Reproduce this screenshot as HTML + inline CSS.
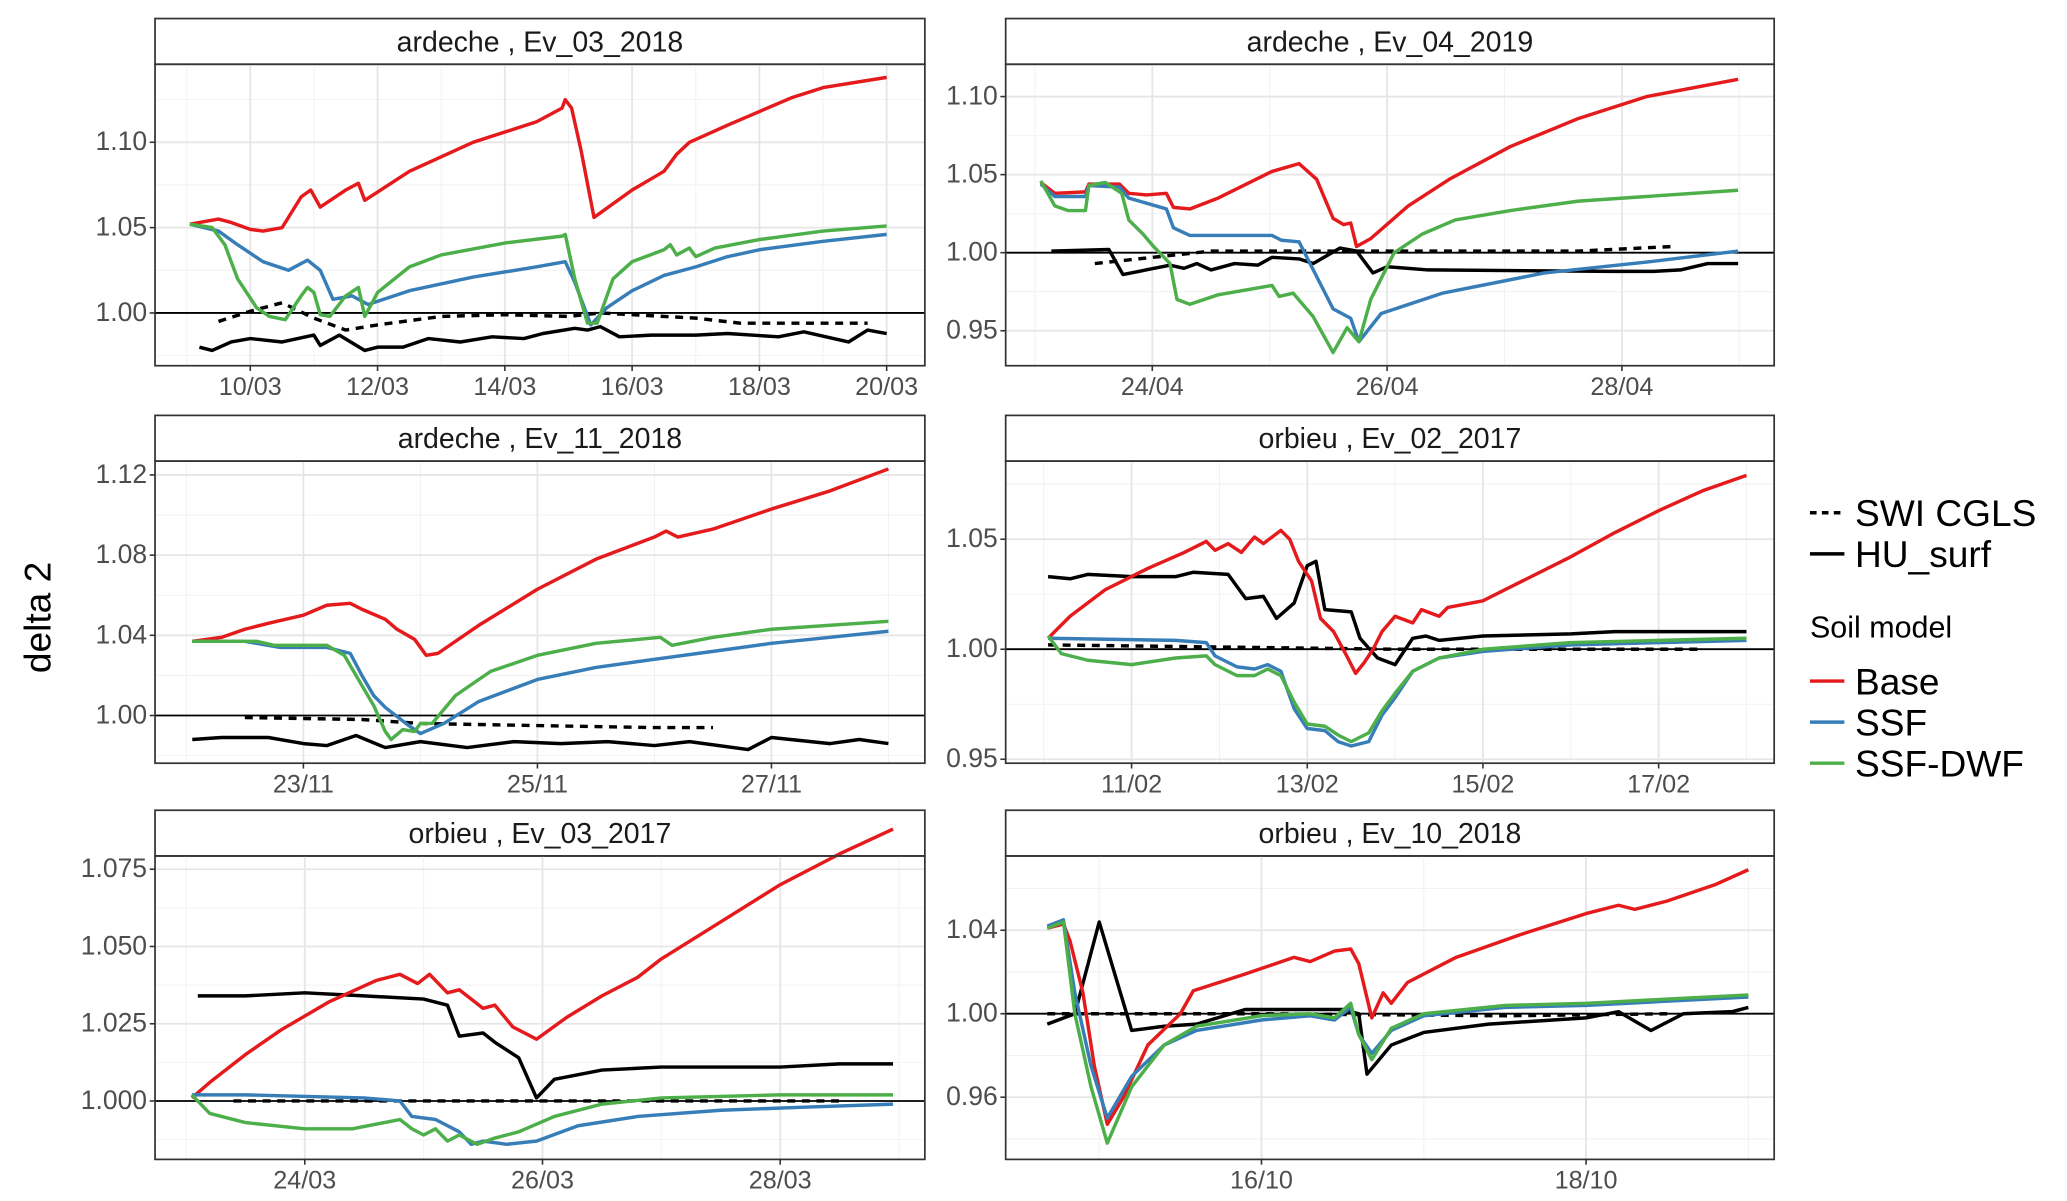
<!DOCTYPE html>
<html><head><meta charset="utf-8"><style>
html,body{margin:0;padding:0;background:#fff}
svg{display:block}
text{font-family:"Liberation Sans",sans-serif}
</style></head><body>
<svg id="chart" width="2067" height="1201" viewBox="0 0 1560 906.4" preserveAspectRatio="none" xmlns="http://www.w3.org/2000/svg">
<text x="0" y="0" transform="translate(38,466) rotate(-90)" text-anchor="middle" font-size="28" fill="#000">delta 2</text>
<g>
<line x1="1366" y1="387" x2="1392" y2="387" stroke="#000" stroke-width="2.6" stroke-dasharray="5,4"/>
<text x="1400" y="397" font-size="28">SWI CGLS</text>
<line x1="1366" y1="418" x2="1392" y2="418" stroke="#000" stroke-width="2.6"/>
<text x="1400" y="428" font-size="28">HU_surf</text>
<text x="1366" y="481" font-size="23">Soil model</text>
<line x1="1366" y1="514" x2="1392" y2="514" stroke="#e41a1c" stroke-width="2.6"/>
<text x="1400" y="524" font-size="28">Base</text>
<line x1="1366" y1="545" x2="1392" y2="545" stroke="#377eb8" stroke-width="2.6"/>
<text x="1400" y="555" font-size="28">SSF</text>
<line x1="1366" y1="576" x2="1392" y2="576" stroke="#4daf4a" stroke-width="2.6"/>
<text x="1400" y="586" font-size="28">SSF-DWF</text>
</g>
</svg>
<script>
const titles=["ardeche , Ev_03_2018","ardeche , Ev_04_2019","ardeche , Ev_11_2018","orbieu , Ev_02_2017","orbieu , Ev_03_2017","orbieu , Ev_10_2018"];
const monthLabels=["03","04","11","02","03","10"];
const xTicksMajor=[[10,12,14,16,18,20],[24,26,28],[23,25,27],[11,13,15,17],[24,26,28],[16,18]];
const xTicksMinor=[[9,11,13,15,17,19],[23,25,27,29],[22,24,26,28],[10,12,14,16,18],[23,25,27,29],[15,17,19]];
const yTicks=[[1.00,1.05,1.10],[0.95,1.00,1.05,1.10],[1.00,1.04,1.08,1.12],[0.95,1.00,1.05],[1.000,1.025,1.050,1.075],[0.96,1.00,1.04]];
const yDecimals=[2,2,2,2,3,2];
const xLims=[[8.503,20.6],[22.751,29.297],[21.732,28.311],[9.567,18.315],[22.740,29.217],[14.424,19.159]];
const yLims=[[0.9691,1.1457],[0.9276,1.1207],[0.9762,1.1269],[0.9482,1.0855],[0.9811,1.0793],[0.9302,1.0756]];

const baseSeries=[
[[9.05,1.052],[9.5,1.055],[9.7,1.053],[10.0,1.049],[10.2,1.048],[10.5,1.050],[10.8,1.068],[10.95,1.072],[11.1,1.062],[11.5,1.072],[11.7,1.076],[11.8,1.066],[12.5,1.083],[13.5,1.100],[14.5,1.112],[14.9,1.120],[14.95,1.125],[15.05,1.12],[15.2,1.095],[15.4,1.056],[16,1.072],[16.5,1.083],[16.7,1.093],[16.9,1.100],[17.5,1.110],[18.0,1.118],[18.5,1.126],[19,1.132],[20,1.138]],
[[23.05,1.045],[23.17,1.038],[23.43,1.039],[23.46,1.044],[23.72,1.044],[23.8,1.038],[23.95,1.037],[24.12,1.038],[24.18,1.029],[24.32,1.028],[24.56,1.035],[25.02,1.052],[25.25,1.057],[25.40,1.047],[25.54,1.022],[25.63,1.018],[25.69,1.019],[25.74,1.004],[25.86,1.009],[26.18,1.030],[26.53,1.047],[27.05,1.068],[27.63,1.086],[28.21,1.100],[28.99,1.111]],
[[22.05,1.037],[22.3,1.039],[22.5,1.043],[22.7,1.046],[23,1.050],[23.2,1.055],[23.4,1.056],[23.5,1.053],[23.7,1.048],[23.8,1.043],[23.95,1.038],[24.05,1.030],[24.15,1.031],[24.5,1.045],[25,1.063],[25.5,1.078],[26.0,1.089],[26.1,1.092],[26.2,1.089],[26.5,1.093],[27,1.103],[27.5,1.112],[28,1.123]],
[[10.05,1.005],[10.3,1.015],[10.7,1.027],[11.2,1.037],[11.6,1.044],[11.85,1.049],[11.95,1.045],[12.1,1.048],[12.25,1.044],[12.4,1.051],[12.5,1.048],[12.7,1.054],[12.8,1.050],[12.9,1.040],[13.05,1.031],[13.15,1.014],[13.3,1.008],[13.45,0.997],[13.55,0.989],[13.65,0.994],[13.75,1.000],[13.85,1.008],[14.0,1.015],[14.2,1.012],[14.3,1.018],[14.5,1.015],[14.6,1.019],[15,1.022],[15.5,1.032],[16,1.042],[16.5,1.053],[17,1.063],[17.5,1.072],[18,1.079]],
[[23.05,1.001],[23.2,1.006],[23.5,1.015],[23.8,1.023],[24.2,1.032],[24.6,1.039],[24.8,1.041],[24.95,1.038],[25.05,1.041],[25.2,1.035],[25.3,1.036],[25.5,1.030],[25.6,1.031],[25.75,1.024],[25.95,1.020],[26.2,1.027],[26.5,1.034],[26.8,1.040],[27,1.046],[27.5,1.058],[28,1.070],[28.5,1.080],[28.95,1.088]],
[[14.68,1.041],[14.78,1.043],[14.82,1.035],[14.9,1.010],[14.97,0.975],[15.05,0.947],[15.15,0.960],[15.3,0.985],[15.5,1.000],[15.58,1.011],[15.9,1.019],[16.2,1.027],[16.3,1.025],[16.45,1.030],[16.55,1.031],[16.6,1.024],[16.68,0.998],[16.75,1.010],[16.8,1.005],[16.9,1.015],[17.2,1.027],[17.6,1.038],[18.0,1.048],[18.2,1.052],[18.3,1.050],[18.5,1.054],[18.8,1.062],[19.0,1.069]]
];
const ssfSeries=[
[[9.05,1.052],[9.5,1.048],[9.8,1.040],[10.2,1.030],[10.6,1.025],[10.9,1.031],[11.1,1.025],[11.3,1.008],[11.6,1.010],[11.85,1.005],[12.5,1.013],[13.5,1.021],[14.5,1.027],[14.95,1.030],[15.1,1.018],[15.35,0.993],[15.6,1.003],[16,1.013],[16.5,1.022],[17,1.027],[17.5,1.033],[18,1.037],[19,1.042],[20,1.046]],
[[23.05,1.044],[23.17,1.036],[23.43,1.036],[23.46,1.043],[23.72,1.042],[23.8,1.035],[24.12,1.028],[24.18,1.016],[24.32,1.011],[25.02,1.011],[25.1,1.008],[25.25,1.007],[25.54,0.964],[25.69,0.958],[25.76,0.943],[25.95,0.961],[26.47,0.974],[27.34,0.987],[28.21,0.994],[28.99,1.001]],
[[22.05,1.037],[22.5,1.037],[22.8,1.034],[23.2,1.034],[23.4,1.031],[23.5,1.020],[23.6,1.010],[23.7,1.004],[23.9,0.995],[24.0,0.991],[24.2,0.996],[24.5,1.007],[25,1.018],[25.5,1.024],[26,1.028],[26.5,1.032],[27,1.036],[27.5,1.039],[28,1.042]],
[[10.05,1.005],[11.5,1.004],[11.85,1.003],[11.95,0.997],[12.2,0.992],[12.4,0.991],[12.55,0.993],[12.7,0.990],[12.85,0.973],[13.0,0.964],[13.2,0.963],[13.35,0.958],[13.5,0.956],[13.7,0.958],[13.85,0.970],[14.0,0.978],[14.2,0.990],[14.5,0.996],[15,0.999],[16,1.002],[17,1.003],[18,1.004]],
[[23.05,1.002],[23.5,1.002],[24.5,1.001],[24.8,1.000],[24.9,0.995],[25.1,0.994],[25.3,0.990],[25.4,0.986],[25.5,0.987],[25.7,0.986],[25.95,0.987],[26.3,0.992],[26.8,0.995],[27.5,0.997],[28.2,0.998],[28.95,0.999]],
[[14.68,1.042],[14.78,1.045],[14.85,1.010],[14.95,0.975],[15.05,0.950],[15.2,0.970],[15.4,0.985],[15.6,0.992],[16,0.997],[16.3,0.999],[16.45,0.997],[16.55,1.003],[16.6,0.990],[16.68,0.981],[16.8,0.992],[17.0,0.999],[17.5,1.003],[18,1.004],[18.5,1.006],[19,1.008]]
];
const dwfSeries=[
[[9.05,1.052],[9.4,1.050],[9.6,1.040],[9.8,1.020],[10.1,1.003],[10.3,0.998],[10.55,0.996],[10.8,1.010],[10.9,1.015],[11.0,1.012],[11.1,0.999],[11.25,0.998],[11.5,1.010],[11.7,1.015],[11.8,0.998],[12.0,1.012],[12.5,1.027],[13,1.034],[14,1.041],[14.9,1.045],[14.95,1.046],[15.1,1.020],[15.3,0.994],[15.45,0.994],[15.7,1.020],[16,1.030],[16.5,1.037],[16.6,1.040],[16.7,1.034],[16.9,1.038],[17.0,1.033],[17.3,1.038],[18,1.043],[19,1.048],[20,1.051]],
[[23.05,1.046],[23.17,1.030],[23.28,1.027],[23.43,1.027],[23.46,1.043],[23.6,1.045],[23.74,1.038],[23.8,1.021],[23.92,1.012],[24.01,1.004],[24.15,0.993],[24.21,0.970],[24.32,0.967],[24.56,0.973],[25.02,0.979],[25.08,0.972],[25.2,0.974],[25.37,0.959],[25.54,0.936],[25.66,0.952],[25.76,0.943],[25.86,0.970],[26.06,1.000],[26.3,1.012],[26.58,1.021],[27.05,1.027],[27.63,1.033],[28.99,1.040]],
[[22.05,1.037],[22.6,1.037],[22.75,1.035],[23.2,1.035],[23.35,1.030],[23.5,1.015],[23.6,1.005],[23.7,0.992],[23.75,0.988],[23.85,0.993],[23.95,0.992],[24.0,0.996],[24.1,0.996],[24.3,1.010],[24.6,1.022],[25,1.030],[25.5,1.036],[26.05,1.039],[26.15,1.035],[26.5,1.039],[27,1.043],[28,1.047]],
[[10.05,1.006],[10.2,0.998],[10.5,0.995],[11,0.993],[11.5,0.996],[11.85,0.997],[11.95,0.993],[12.2,0.988],[12.4,0.988],[12.55,0.991],[12.7,0.988],[12.85,0.976],[13.0,0.966],[13.2,0.965],[13.35,0.961],[13.5,0.958],[13.7,0.962],[13.85,0.972],[14.0,0.980],[14.2,0.990],[14.5,0.996],[15,1.000],[16,1.003],[17,1.004],[18,1.005]],
[[23.05,1.002],[23.2,0.996],[23.5,0.993],[24,0.991],[24.4,0.991],[24.8,0.994],[24.9,0.991],[25.0,0.989],[25.1,0.991],[25.2,0.987],[25.3,0.989],[25.45,0.986],[25.6,0.988],[25.8,0.990],[26.1,0.995],[26.5,0.999],[27,1.001],[28,1.002],[28.95,1.002]],
[[14.68,1.041],[14.78,1.044],[14.85,1.000],[14.95,0.965],[15.05,0.938],[15.2,0.965],[15.4,0.985],[15.6,0.994],[16,0.999],[16.3,1.000],[16.45,0.998],[16.55,1.005],[16.6,0.990],[16.68,0.978],[16.8,0.993],[17.0,1.000],[17.5,1.004],[18,1.005],[18.5,1.007],[19,1.009]]
];
const swiSeries=[
[[9.5,0.995],[10,1.001],[10.5,1.006],[11.0,0.997],[11.5,0.990],[12,0.993],[13,0.998],[14,0.999],[15,0.998],[15.5,1.000],[16,0.999],[17,0.997],[17.7,0.994],[18,0.994],[19,0.994],[19.7,0.994]],
[[23.51,0.993],[24.5,1.001],[27.63,1.001],[28.44,1.004]],
[[22.5,0.999],[23.5,0.998],[24,0.996],[25,0.995],[26,0.994],[26.5,0.994]],
[[10.05,1.002],[12,1.001],[14,1.000],[16,1.000],[17.5,1.000]],
[[23.4,1.000],[25,1.000],[27,1.000],[28.5,1.000]],
[[14.68,1.000],[16,1.000],[17.5,0.999],[18.5,1.000]]
];
const huSeries=[
[[9.2,0.980],[9.4,0.978],[9.7,0.983],[10,0.985],[10.5,0.983],[11,0.987],[11.1,0.981],[11.4,0.987],[11.8,0.978],[12,0.980],[12.4,0.980],[12.8,0.985],[13.3,0.983],[13.8,0.986],[14.3,0.985],[14.6,0.988],[15.1,0.991],[15.3,0.990],[15.5,0.992],[15.8,0.986],[16.3,0.987],[17,0.987],[17.5,0.988],[18.3,0.986],[18.7,0.989],[19.4,0.983],[19.7,0.990],[20,0.988]],
[[23.14,1.001],[23.63,1.002],[23.75,0.986],[24.15,0.992],[24.27,0.990],[24.38,0.993],[24.5,0.989],[24.7,0.993],[24.9,0.992],[25.02,0.997],[25.25,0.996],[25.37,0.993],[25.6,1.003],[25.74,1.001],[25.88,0.987],[26.0,0.991],[26.35,0.989],[27.92,0.988],[28.27,0.988],[28.5,0.989],[28.73,0.993],[28.99,0.993]],
[[22.05,0.988],[22.3,0.989],[22.7,0.989],[23,0.986],[23.2,0.985],[23.45,0.990],[23.7,0.984],[24,0.987],[24.4,0.984],[24.8,0.987],[25.2,0.986],[25.6,0.987],[26,0.985],[26.3,0.987],[26.8,0.983],[27.0,0.989],[27.5,0.986],[27.75,0.988],[28,0.986]],
[[10.05,1.033],[10.3,1.032],[10.5,1.034],[11,1.033],[11.5,1.033],[11.7,1.035],[12.1,1.034],[12.3,1.023],[12.5,1.024],[12.65,1.014],[12.85,1.021],[13.0,1.038],[13.1,1.040],[13.2,1.018],[13.5,1.017],[13.6,1.005],[13.8,0.996],[14.0,0.993],[14.2,1.005],[14.35,1.006],[14.5,1.004],[15,1.006],[16,1.007],[16.5,1.008],[17,1.008],[18,1.008]],
[[23.1,1.034],[23.5,1.034],[24,1.035],[24.5,1.034],[25,1.033],[25.2,1.031],[25.3,1.021],[25.5,1.022],[25.6,1.019],[25.8,1.014],[25.95,1.001],[26.1,1.007],[26.5,1.010],[27,1.011],[28,1.011],[28.5,1.012],[28.95,1.012]],
[[14.68,0.995],[14.85,1.000],[15.0,1.044],[15.2,0.992],[15.4,0.994],[15.6,0.995],[15.9,1.002],[16.5,1.002],[16.6,1.000],[16.65,0.971],[16.8,0.985],[17.0,0.991],[17.4,0.995],[18,0.998],[18.2,1.001],[18.4,0.992],[18.6,1.000],[18.9,1.001],[19.0,1.003]]
];

const NS="http://www.w3.org/2000/svg";
const svg=document.getElementById("chart");
function mk(tag,attrs,parent){const e=document.createElementNS(NS,tag);for(const k in attrs)e.setAttribute(k,attrs[k]);(parent||svg).appendChild(e);return e;}
const colLeft=[117,759], colRight=[698,1339];
const rowTop=[48.5,348,646], rowBottom=[276,576,875];
const stripH=34.5;
const pad=n=>String(n).padStart(2,"0");

for(let p=0;p<6;p++){
  const c=p%2, r=Math.floor(p/2);
  const L=colLeft[c],R=colRight[c],T=rowTop[r],B=rowBottom[r];
  const xs=d=>L+(d-xLims[p][0])/(xLims[p][1]-xLims[p][0])*(R-L);
  const ys=v=>B-(v-yLims[p][0])/(yLims[p][1]-yLims[p][0])*(B-T);
  const g=mk("g",{});
  
  
  // strip
  const st=mk("rect",{x:L,y:T-stripH,width:R-L,height:stripH,fill:"#fff",stroke:"#333","stroke-width":1.3},g);
  
  
  const tt=mk("text",{x:(L+R)/2,y:T-stripH/2+7.5,"text-anchor":"middle","font-size":21.5,fill:"#1a1a1a"},g);
  tt.textContent=titles[p];
  
  
  // minor y grid
  const yt=yTicks[p];const step=yt[1]-yt[0];
  for(let v=yt[0]-step*1.5;v<=yt[yt.length-1]+step*1.5;v+=step){
    if(v>yLims[p][0]&&v<yLims[p][1]){const gl=mk("line",{x1:L,x2:R,y1:ys(v),y2:ys(v),stroke:"#f2f2f2","stroke-width":0.8},g);
    }
  }
  xTicksMinor[p].forEach(d=>{const gl=mk("line",{x1:xs(d),x2:xs(d),y1:T,y2:B,stroke:"#f2f2f2","stroke-width":0.8},g);
    });
  yt.forEach(v=>{
    const gl=mk("line",{x1:L,x2:R,y1:ys(v),y2:ys(v),stroke:"#e6e6e6","stroke-width":1.4},g);
    
    const tk=mk("line",{x1:L-4,x2:L,y1:ys(v),y2:ys(v),stroke:"#333","stroke-width":1.2},g);
    
    const tl=mk("text",{x:L-6,y:ys(v)+6,"text-anchor":"end","font-size":20,fill:"#4d4d4d"},g);
    tl.textContent=v.toFixed(yDecimals[p]);
    
  });
  xTicksMajor[p].forEach(d=>{
    const gl=mk("line",{x1:xs(d),x2:xs(d),y1:T,y2:B,stroke:"#e6e6e6","stroke-width":1.4},g);
    
    const tk=mk("line",{x1:xs(d),x2:xs(d),y1:B,y2:B+4,stroke:"#333","stroke-width":1.2},g);
    
    const tl=mk("text",{x:xs(d),y:B+22,"text-anchor":"middle","font-size":19,fill:"#4d4d4d"},g);
    tl.textContent=pad(d)+"/"+monthLabels[p];
    
  });
  const h1=mk("line",{x1:L,x2:R,y1:ys(1),y2:ys(1),stroke:"#000","stroke-width":1.4},g);
  
  const series=[[swiSeries[p],"#000","6,5","swi-cgls-line"],[huSeries[p],"#000","","hu-surf-line"],[baseSeries[p],"#e41a1c","","base-line"],[ssfSeries[p],"#377eb8","","ssf-line"],[dwfSeries[p],"#4daf4a","","ssf-dwf-line"]];
  series.forEach(s=>{
    const d=s[0].map((pt,i)=>(i?"L":"M")+xs(pt[0]).toFixed(1)+","+ys(pt[1]).toFixed(1)).join("");
    const a={d:d,fill:"none",stroke:s[1],"stroke-width":2.6,"stroke-linejoin":"round"};
    if(s[2])a["stroke-dasharray"]=s[2];
    const pa=mk("path",a,g);
    
    
  });
  const fr=mk("rect",{x:L,y:T,width:R-L,height:B-T,fill:"none",stroke:"#333","stroke-width":1.3},g);
  
}
</script>
</body></html>
